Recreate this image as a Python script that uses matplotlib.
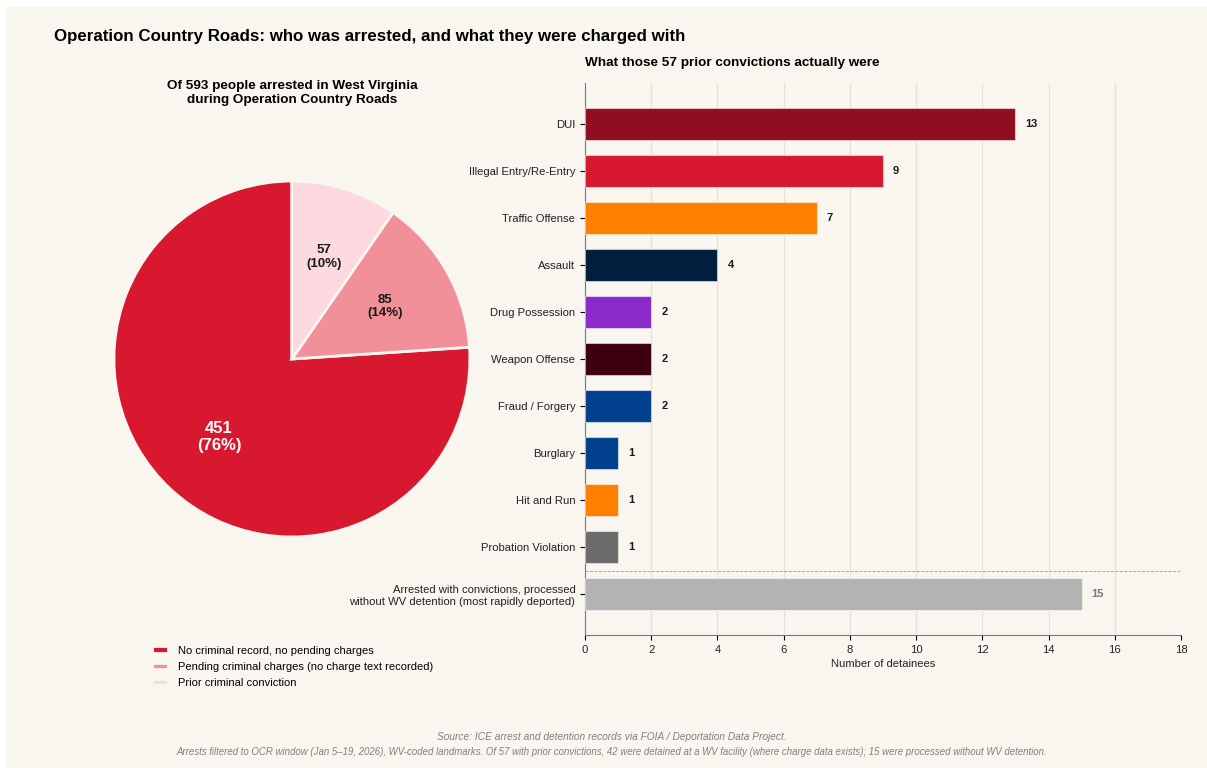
import numpy as np
import matplotlib.pyplot as plt
from matplotlib.patches import Rectangle

plt.rcParams['font.family'] = ['Liberation Sans', 'DejaVu Sans']

BG = '#f9f6f0'

# arrest outcomes for the pie
pie_labels = ['No criminal record, no pending charges',
              'Pending criminal charges (no charge text recorded)',
              'Prior criminal conviction']
pie_counts = [451, 85, 57]
pie_colors = ['#d7182f', '#f29099', '#fbd9de']

# prior conviction breakdown
charges = ['DUI', 'Illegal Entry/Re-Entry', 'Traffic Offense', 'Assault',
           'Drug Possession', 'Weapon Offense', 'Fraud / Forgery', 'Burglary',
           'Hit and Run', 'Probation Violation',
           'Arrested with convictions, processed\nwithout WV detention (most rapidly deported)']
charge_counts = [13, 9, 7, 4, 2, 2, 2, 1, 1, 1, 15]
charge_colors = ['#8f0e20', '#d7182f', '#ff7f00', '#001f3f', '#8a2bc9', '#3d0010',
                 '#00408c', '#00408c', '#ff7f00', '#6b6b6b', '#b3b3b3']

fig = plt.figure(figsize=(12.07, 7.68), dpi=100, facecolor='white')
fig.patches.append(Rectangle((6 / 1207, 0), 1, 1 - 7 / 768, transform=fig.transFigure,
                             facecolor=BG, edgecolor='none', zorder=-10))

fig.text(0.045, 0.953, 'Operation Country Roads: who was arrested, and what they were charged with',
         fontsize=12.2, fontweight='bold', ha='left', va='center')

# pie
ax1 = fig.add_axes([0.0944, 0.3008, 0.2949, 0.4635])
ax1.set_facecolor(BG)
total = sum(pie_counts)
wedges, _ = ax1.pie(pie_counts, colors=pie_colors, startangle=90,
                    wedgeprops=dict(edgecolor=BG, linewidth=2))
ax1.set_aspect('equal')
ax1.set_xlim(-1, 1)
ax1.set_ylim(-1, 1)
for w, n in zip(wedges, pie_counts):
    ang = np.deg2rad((w.theta1 + w.theta2) / 2)
    txt = f'{n}\n({n / total * 100:.0f}%)'
    x, y = 0.6 * np.cos(ang), 0.6 * np.sin(ang)
    if n == max(pie_counts):
        ax1.text(x, y, txt, ha='center', va='center', fontsize=12,
                 fontweight='bold', color='white', linespacing=1.15)
    else:
        ax1.text(x, y, txt, ha='center', va='center', fontsize=9.5,
                 fontweight='bold', color='#1a1a1a', linespacing=1.15)
fig.text(292 / 1207, 1 - 93 / 768,
         'Of 593 people arrested in West Virginia\nduring Operation Country Roads',
         fontsize=9.7, fontweight='bold', ha='center', va='center', linespacing=1.2)

fig.legend(wedges, pie_labels, loc='upper left', bbox_to_anchor=(0.118, 0.1725),
           frameon=False, fontsize=8.0, handlelength=1.4, handleheight=0.5,
           labelspacing=0.55, handletextpad=0.9)

# bars
ax2 = fig.add_axes([0.4847, 0.173, 0.4938, 0.719])
ax2.set_facecolor(BG)
ypos = list(range(len(charges)))
ax2.barh(ypos, charge_counts, height=0.68, color=charge_colors,
         edgecolor=(1, 1, 1, 0.5), linewidth=0.8, zorder=3)
for y, v in zip(ypos, charge_counts):
    if y == len(charges) - 1:
        ax2.text(v + 0.3, y, str(v), va='center', ha='left', fontsize=8,
                 fontweight='bold', color='#777777')
    else:
        ax2.text(v + 0.3, y, str(v), va='center', ha='left', fontsize=8,
                 fontweight='bold', color='#1a1a1a')
ax2.axhline(len(charges) - 1.5, color='#999999', linestyle='--', linewidth=0.6, zorder=2)
ax2.set_yticks(ypos)
ax2.set_yticklabels(charges, fontsize=8.1, color='#222222')
ax2.set_ylim(len(charges) - 0.13, -0.87)
ax2.set_xlim(0, 18)
ax2.set_xticks(range(0, 19, 2))
ax2.tick_params(axis='x', labelsize=8.1, labelcolor='#222222')
ax2.set_xlabel('Number of detainees', fontsize=8.1, labelpad=3, color='#222222')
ax2.grid(axis='x', color='#e4e1dc', linewidth=0.8, zorder=0)
ax2.set_axisbelow(True)
for s in ['top', 'right']:
    ax2.spines[s].set_visible(False)
ax2.spines['left'].set_color('#777777')
ax2.spines['bottom'].set_color('#777777')
ax2.set_title('What those 57 prior convictions actually were', loc='left',
              fontsize=9.7, fontweight='bold', pad=12)

fig.text(0.507, 1 - 737 / 768,
         'Source: ICE arrest and detention records via FOIA / Deportation Data Project.',
         fontsize=7.3, style='italic', color='#808080', ha='center', va='center')
fig.text(0.507, 1 - 752 / 768,
         'Arrests filtered to OCR window (Jan 5\u201319, 2026), WV-coded landmarks. '
         'Of 57 with prior convictions, 42 were detained at a WV facility (where charge data exists); '
         '15 were processed without WV detention.',
         fontsize=6.9, style='italic', color='#808080', ha='center', va='center')

fig.savefig('out.png', dpi=100, facecolor=fig.get_facecolor())
